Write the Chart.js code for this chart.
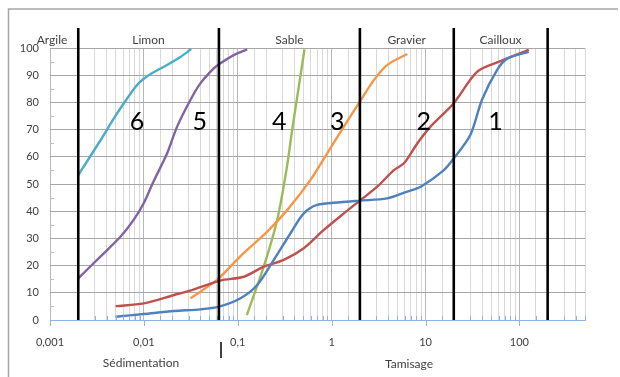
<!DOCTYPE html>
<html lang="fr">
<head>
<meta charset="UTF-8">
<title>Courbes granulométriques</title>
<script src="https://cdn.jsdelivr.net/npm/chart.js"></script>
<style>
  body { margin: 0; background: #fff; }
  #wrap { width: 620px; height: 377px; position: relative; }
</style>
</head>
<body>
<div id="wrap"><canvas id="granulo" width="620" height="377"></canvas></div>
<script>
// tamis (mm) et passants cumulés (%)
const sizes1 = [0.005, 0.01, 0.021, 0.04, 0.063, 0.107, 0.161, 0.242, 0.365, 0.505, 0.70, 1.24, 2.0, 3.9, 6.4, 8.9, 15.7, 20, 30, 40, 58, 75, 126];
const pass1  = [1.2, 2.2, 3.3, 3.9, 4.9, 8, 12.9, 22.1, 31.9, 39.2, 42.3, 43.3, 43.9, 44.7, 47.2, 49, 55.1, 59.4, 68, 81, 92, 96.2, 98.6];

const sizes2 = [0.005, 0.01, 0.021, 0.031, 0.065, 0.116, 0.189, 0.309, 0.505, 0.826, 1.35, 2.0, 3.06, 4.6, 5.9, 8.2, 11.3, 20, 35.6, 63, 126];
const pass2  = [5.1, 6.1, 9.2, 10.8, 14.5, 15.9, 19.6, 22.1, 26.4, 33.1, 39.2, 43.9, 49, 55.1, 57.6, 65, 71.1, 79.7, 91.3, 95.2, 99.3];

const sizes3 = [0.0313, 0.040, 0.0627, 0.107, 0.206, 0.336, 0.596, 0.897, 1.35, 1.95, 2.82, 3.92, 6.4];
const pass3  = [8, 10.4, 15.3, 23.5, 32.5, 40.4, 51.5, 61.3, 71.1, 79.7, 88.2, 93.8, 97.8];

const sizes4 = [0.125, 0.189, 0.263, 0.33, 0.38, 0.514];
const pass4  = [1.8, 19.6, 36.8, 55.1, 69.9, 99.5];

const sizes5 = [0.002, 0.00344, 0.00562, 0.00778, 0.00995, 0.0127, 0.0177, 0.0226, 0.0313, 0.040, 0.0555, 0.0655, 0.0906, 0.126];
const pass5  = [15.3, 23.3, 30.6, 36.8, 42.9, 51, 61.3, 71.1, 80.9, 87, 92.5, 94.4, 97.4, 99.5];

const sizes6 = [0.002, 0.00344, 0.00477, 0.00635, 0.00812, 0.00988, 0.0123, 0.0169, 0.0245, 0.0319];
const pass6  = [53.3, 66, 74, 80.5, 85.7, 88.6, 90.8, 93.4, 96.7, 99.6];

const curveColors = ['#4F81BD', '#C0504D', '#F79646', '#9BBB59', '#8064A2', '#4BACC6'];

// limites des classes granulométriques et leurs noms
const zoneBounds = [0.002, 0.063, 2, 20, 200];
const zoneNames  = ['Argile', 'Limon', 'Sable', 'Gravier', 'Cailloux'];
const zoneLabelAt = [0.00105, 0.0112, 0.355, 6.3, 63];

// étiquettes des courbes
const curveNames = ['6', '5', '4', '3', '2', '1'];
const curveLabelAt = [0.00845, 0.0394, 0.276, 1.15, 9.6, 55.8];
const curveLabelY = 72.8;

const tickValues = [0.001, 0.01, 0.1, 1, 10, 100];
const tickLabels = ['0,001', '0,01', '0,1', '1', '10', '100'];

function decadeIndex(v) {
  return tickValues.findIndex(t => Math.abs(Math.log10(v) - Math.log10(t)) < 1e-6);
}

function toPoints(xs, ys) {
  return xs.map((x, i) => ({ x: x, y: ys[i] }));
}

const series = [
  toPoints(sizes1, pass1), toPoints(sizes2, pass2), toPoints(sizes3, pass3),
  toPoints(sizes4, pass4), toPoints(sizes5, pass5), toPoints(sizes6, pass6)
];

const decor = {
  id: 'decor',
  beforeDraw(chart) {
    const c = chart.ctx;
    c.save();
    c.strokeStyle = '#a6a6a6';
    c.lineWidth = 1.5;
    c.beginPath();
    c.moveTo(8.5, 377);
    c.lineTo(8.5, 9);
    c.lineTo(618, 9);
    c.stroke();
    c.restore();
  },
  afterDatasetsDraw(chart) {
    const c = chart.ctx;
    const xs = chart.scales.x, ys = chart.scales.y;
    const area = chart.chartArea;
    c.save();

    // petites graduations
    c.strokeStyle = '#8eb4e3';
    c.lineWidth = 1;
    xs.ticks.forEach(t => {
      const px = Math.round(xs.getPixelForValue(t.value)) + 0.5;
      c.beginPath();
      if (decadeIndex(t.value) >= 0) {
        c.moveTo(px, area.bottom);
        c.lineTo(px, area.bottom + 6);
      } else {
        c.moveTo(px, area.bottom - 4);
        c.lineTo(px, area.bottom);
      }
      c.stroke();
    });
    c.strokeStyle = '#bfbfbf';
    for (let v = 5; v < 100; v += 10) {
      const py = Math.round(ys.getPixelForValue(v)) + 0.5;
      c.beginPath();
      c.moveTo(area.left, py);
      c.lineTo(area.left + 4, py);
      c.stroke();
    }

    // limites des classes
    c.strokeStyle = '#000';
    c.lineWidth = 2.6;
    zoneBounds.forEach(b => {
      const px = xs.getPixelForValue(b);
      c.beginPath();
      c.moveTo(px, 28);
      c.lineTo(px, area.bottom);
      c.stroke();
    });

    c.fillStyle = '#404040';
    c.font = '12px Lato, "Open Sans", sans-serif';
    c.textAlign = 'center';
    c.textBaseline = 'middle';
    zoneNames.forEach((n, i) => {
      c.fillText(n, xs.getPixelForValue(zoneLabelAt[i]), 40);
    });

    c.fillStyle = '#000';
    c.font = '25px Lato, "Open Sans", sans-serif';
    curveNames.forEach((n, i) => {
      c.fillText(n, xs.getPixelForValue(curveLabelAt[i]), ys.getPixelForValue(curveLabelY));
    });

    // titres de l'axe
    c.fillStyle = '#404040';
    c.font = '12px Lato, "Open Sans", sans-serif';
    c.fillText('Sédimentation', 141, 363);
    c.fillText('Tamisage', 409, 364);
    c.strokeStyle = '#000';
    c.lineWidth = 1.5;
    c.beginPath();
    c.moveTo(221, 342);
    c.lineTo(221, 358);
    c.stroke();
    c.restore();
  }
};

Chart.defaults.font.family = 'Lato, "Open Sans", sans-serif';

new Chart(document.getElementById('granulo'), {
  type: 'line',
  data: {
    datasets: series.map((pts, i) => ({
      data: pts,
      borderColor: curveColors[i],
      borderWidth: 2.4,
      pointRadius: 0,
      fill: false,
      tension: 0.3
    }))
  },
  options: {
    responsive: false,
    animation: false,
    events: [],
    layout: { padding: { left: 0, top: 48, right: 35, bottom: 0 } },
    plugins: { legend: { display: false }, tooltip: { enabled: false } },
    scales: {
      x: {
        type: 'logarithmic',
        min: 0.001,
        max: 500,
        afterFit: s => { s.height = 57; },
        grid: {
          drawTicks: false,
          color: ctx => (ctx.tick && decadeIndex(ctx.tick.value) >= 0) ? '#b8b8b8' : '#d9d9d9'
        },
        border: { color: '#8eb4e3' },
        ticks: {
          autoSkip: false,
          maxRotation: 0,
          padding: 16,
          color: '#404040',
          font: { size: 11 },
          callback: v => {
            const k = decadeIndex(v);
            return k >= 0 ? tickLabels[k] : '';
          }
        }
      },
      y: {
        min: 0,
        max: 100,
        afterFit: s => { s.width = 50; },
        grid: { drawTicks: false, color: '#a6a6a6' },
        border: { display: false },
        ticks: { stepSize: 10, padding: 11, color: '#404040', font: { size: 11 } }
      }
    }
  },
  plugins: [decor]
});
</script>
</body>
</html>
